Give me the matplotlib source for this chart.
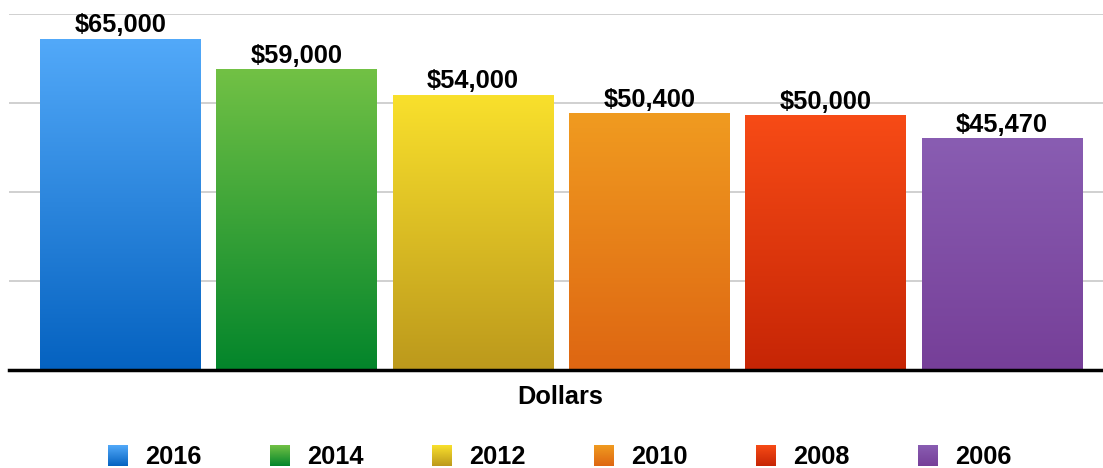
import numpy as np
import matplotlib
matplotlib.use("Agg")
import matplotlib.pyplot as plt
from matplotlib.colors import LinearSegmentedColormap

plt.rcParams['font.family'] = ['Liberation Sans', 'DejaVu Sans']

# salaries par année
years = ["2016", "2014", "2012", "2010", "2008", "2006"]
values = [65000, 59000, 54000, 50400, 50000, 45470]
labels = ["$65,000", "$59,000", "$54,000", "$50,400", "$50,000", "$45,470"]
category = "Dollars"

# couleurs haut / bas du dégradé de chaque barre
tops = ["#52a9f9", "#72c145", "#f9e02c", "#f09b20", "#f74b16", "#895db2"]
bottoms = ["#0562c0", "#03852b", "#bc991c", "#de6612", "#c62505", "#763f98"]

W, H = 1103, 468
fig = plt.figure(figsize=(W / 100, H / 100), dpi=100)
ax = fig.add_axes([8.5 / W, 1 - 370 / H, 1 - 8.5 / W, (370 - 14) / H])

step = 176.3
width = 161 / step
grad = np.linspace(1, 0, 256).reshape(-1, 1)

for i, (v, t, b) in enumerate(zip(values, tops, bottoms)):
    cmap = LinearSegmentedColormap.from_list("g%d" % i, [b, t])
    ax.imshow(grad, cmap=cmap, aspect="auto", interpolation="bilinear",
              extent=(i - width / 2, i + width / 2, 0, v), zorder=2)
    ax.annotate(labels[i], (i, v), xytext=(0, 5), textcoords="offset points",
                ha="center", va="baseline", fontsize=18.3, fontweight="bold",
                zorder=3)

ax.set_xlim((8.5 - 120.5) / step, (1103 - 120.5) / step)
ax.set_ylim(0, 70000)
ax.set_yticks([17500, 35000, 52500, 70000])
ax.grid(axis="y", color="#c8c8c8", linewidth=1.2, zorder=0)
ax.set_xticks([])
ax.tick_params(left=False, labelleft=False)
for s in ["top", "right", "left"]:
    ax.spines[s].set_visible(False)
ax.spines["bottom"].set_linewidth(2.5)
ax.spines["bottom"].set_color("black")
ax.spines["bottom"].set_zorder(4)

fig.text(560 / W, 1 - 397 / H, category, ha="center", va="center",
         fontsize=18.3, fontweight="bold")

# légende dessinée à la main avec des petits carrés en dégradé
for i, yr in enumerate(years):
    x0 = 108 + i * 162
    sq = fig.add_axes([x0 / W, 1 - 465.5 / H, 20 / W, 20.5 / H])
    cmap = LinearSegmentedColormap.from_list("l%d" % i, [bottoms[i], tops[i]])
    sq.imshow(grad, cmap=cmap, aspect="auto", interpolation="bilinear")
    sq.axis("off")
    fig.text((x0 + 37) / W, 1 - 456.5 / H, yr, ha="left", va="center",
             fontsize=18.3, fontweight="bold")

fig.savefig("out.png", dpi=100)
